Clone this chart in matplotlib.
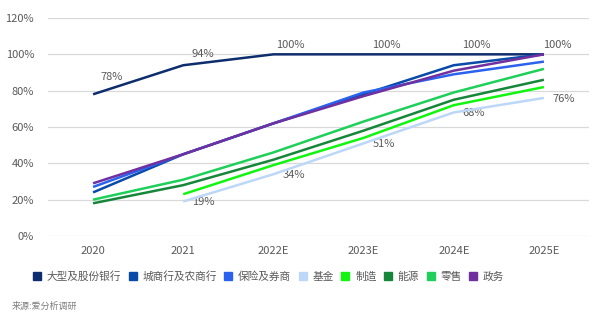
import numpy as np
import matplotlib
matplotlib.use("Agg")
import matplotlib.pyplot as plt
from matplotlib.lines import Line2D

plt.rcParams['font.family'] = ['Noto Sans CJK SC', 'DejaVu Sans']

categories = ["2020", "2021", "2022E", "2023E", "2024E", "2025E"]
series_names = ["大型及股份银行", "城商行及农商行", "保险及券商", "基金", "制造", "能源", "零售", "政务"]
big_banks = [78, 94, 100, 100, 100, 100]
city_banks = [24, 45, 62, 78, 94, 100]
insurance = [27, 45, 62, 79, 89, 96]
funds = [np.nan, 19, 34, 51, 68, 76]
manufacturing = [np.nan, 23, 39, 54, 72, 82]
energy = [18, 28, 42, 58, 75, 86]
retail = [20, 31, 46, 63, 79, 92]
government = [29, 45, 62, 77, 91, 100]
yticks = [0, 20, 40, 60, 80, 100, 120]
source = "来源:爱分析调研"

colors = ["#0E2D6E", "#0A4AA8", "#2A62EE", "#BDD7F8", "#11F511", "#16873A", "#1ED05A", "#7030A0"]
data = [big_banks, city_banks, insurance, funds, manufacturing, energy, retail, government]
draw_order = [3, 4, 5, 6, 2, 1, 7, 0]

# label offsets (pixels) for the top-series labels
top_dx = [19, 20, 17, 23, 23, 13]
top_dy = [17, 11, 9, 9, 9, 9]
px = 72 / 100

fig = plt.figure(figsize=(6.0, 3.21), dpi=100)
ax = fig.add_axes([48/600, 1-236/321, (589-48)/600, (236-18)/321])
x = np.arange(len(categories))

for i in draw_order:
    vals = np.array(data[i], dtype=float) / 100
    ax.plot(x, vals, color=colors[i], lw=1.8, solid_capstyle='butt', zorder=3 + i * 0.01)

tc = "#595959"
for xi, v, dx, dy in zip(x, big_banks, top_dx, top_dy):
    ax.annotate(f"{v}%", (xi, v/100), xytext=(dx*px, dy*px), textcoords='offset points',
                ha='center', va='center', fontsize=8, color=tc)
for xi, v in zip(x, funds):
    if np.isnan(v):
        continue
    ax.annotate(f"{int(v)}%", (xi, v/100), xytext=(20*px, -0.5), textcoords='offset points',
                ha='center', va='center', fontsize=8, color=tc)

ax.set_xlim(-0.5, len(categories) - 0.5)
ax.set_ylim(0, 1.2)
ax.set_yticks([t/100 for t in yticks])
ax.set_yticklabels([f"{t}%" for t in yticks])
ax.set_xticks(x)
ax.set_xticklabels(categories)
ax.tick_params(axis='both', length=0, labelsize=8, colors=tc)
ax.tick_params(axis='y', pad=10)
ax.tick_params(axis='x', pad=7)
for s in ax.spines.values():
    s.set_visible(False)
ax.grid(axis='y', color='#D9D9D9', lw=0.9)
ax.set_axisbelow(True)

handles = [Line2D([], [], ls='none', marker='s', markersize=5.6, markerfacecolor=c,
                  markeredgecolor=c) for c in colors]
fig.legend(handles, series_names, loc='center left', bbox_to_anchor=(32.5/600, 1-276.5/321),
           ncol=8, frameon=False, fontsize=7.7, handlelength=0.8, handletextpad=0.5,
           columnspacing=0.7, borderaxespad=0, borderpad=0, labelcolor=tc)

fig.text(12/600, 1-306/321, source, fontsize=6.5, color="#7F7F7F", va='center', ha='left')

fig.savefig("out.png", dpi=100)
